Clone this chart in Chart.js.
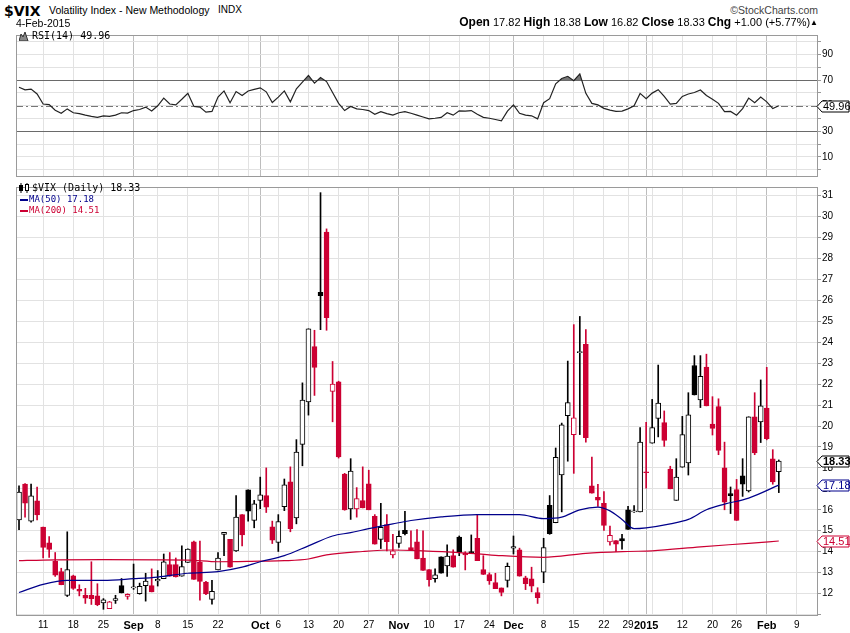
<!DOCTYPE html>
<html>
<head>
<meta charset="utf-8">
<script src="https://cdn.jsdelivr.net/npm/chart.js@4.4.1/dist/chart.umd.min.js"></script>
<style>
body { margin: 0; background: #fff; }
#wrap { position: relative; width: 850px; height: 633px; overflow: hidden; font-family: "Liberation Sans", Arial, sans-serif; color: #000; }
.t { position: absolute; white-space: nowrap; line-height: 1; }
.n { font-family: "Liberation Sans Narrow", "Arial Narrow", "Liberation Sans", sans-serif; font-weight: bold; font-size: 12px; }
.mono { font-family: "DejaVu Sans Mono", monospace; }
canvas { position: absolute; left: 0; }
</style>
</head>
<body>
<div id="wrap">
  <canvas id="rsi" width="850" height="156" style="top:28px"></canvas>
  <canvas id="main" width="850" height="453" style="top:180px"></canvas>

  <div class="t" style="left:4px;top:3px;font:bold 14px 'DejaVu Sans',sans-serif">$VIX</div>
  <div class="t" style="left:49px;top:5px;font-size:10.5px">Volatility Index - New Methodology</div>
  <div class="t" style="left:218px;top:5px;font-size:10px">INDX</div>
  <div class="t" style="right:32px;top:5px;font-size:10.5px;color:#444">&copy;StockCharts.com</div>
  <div class="t" style="left:16px;top:18px;font-size:10.5px">4-Feb-2015</div>
  <div class="t" id="ohlc" style="right:32px;top:16px;font-size:11px"></div>

  <svg class="t" style="left:19px;top:32px" width="10" height="9"><polygon points="0,9 2,2 4,5 6,0 9,9" fill="#888" stroke="#333" stroke-width="1"/></svg>
  <div class="t mono" id="lgRsi" style="left:32px;top:31px;font-size:10px"></div>

  <svg class="t" style="left:18px;top:183px" width="12" height="10"><line x1="3" y1="0" x2="3" y2="10" stroke="#000"/><rect x="1" y="2" width="4" height="6" fill="#000"/><line x1="9" y1="0" x2="9" y2="10" stroke="#000"/><rect x="7.5" y="1.5" width="3" height="6" fill="#fff" stroke="#000"/></svg>
  <div class="t mono" id="lgVix" style="left:32px;top:183px;font-size:10px"></div>
  <div class="t" style="left:20px;top:199px;width:8px;border-top:2px solid #00008b"></div>
  <div class="t mono" id="lgMa50" style="left:29px;top:195px;font-size:9px;color:#00008b"></div>
  <div class="t" style="left:20px;top:210px;width:8px;border-top:2px solid #cc0033"></div>
  <div class="t mono" id="lgMa200" style="left:29px;top:206px;font-size:9px;color:#cc0033"></div>
</div>
<script>
// trading days Aug 5 2014 .. Feb 4 2015, then empty days to the right edge
var dates = [
  '2014-08-05','2014-08-06','2014-08-07','2014-08-08',
  '2014-08-11','2014-08-12','2014-08-13','2014-08-14','2014-08-15',
  '2014-08-18','2014-08-19','2014-08-20','2014-08-21','2014-08-22',
  '2014-08-25','2014-08-26','2014-08-27','2014-08-28','2014-08-29',
  '2014-09-02','2014-09-03','2014-09-04','2014-09-05',
  '2014-09-08','2014-09-09','2014-09-10','2014-09-11','2014-09-12',
  '2014-09-15','2014-09-16','2014-09-17','2014-09-18','2014-09-19',
  '2014-09-22','2014-09-23','2014-09-24','2014-09-25','2014-09-26',
  '2014-09-29','2014-09-30','2014-10-01','2014-10-02','2014-10-03',
  '2014-10-06','2014-10-07','2014-10-08','2014-10-09','2014-10-10',
  '2014-10-13','2014-10-14','2014-10-15','2014-10-16','2014-10-17',
  '2014-10-20','2014-10-21','2014-10-22','2014-10-23','2014-10-24',
  '2014-10-27','2014-10-28','2014-10-29','2014-10-30','2014-10-31',
  '2014-11-03','2014-11-04','2014-11-05','2014-11-06','2014-11-07',
  '2014-11-10','2014-11-11','2014-11-12','2014-11-13','2014-11-14',
  '2014-11-17','2014-11-18','2014-11-19','2014-11-20','2014-11-21',
  '2014-11-24','2014-11-25','2014-11-26','2014-11-28',
  '2014-12-01','2014-12-02','2014-12-03','2014-12-04','2014-12-05',
  '2014-12-08','2014-12-09','2014-12-10','2014-12-11','2014-12-12',
  '2014-12-15','2014-12-16','2014-12-17','2014-12-18','2014-12-19',
  '2014-12-22','2014-12-23','2014-12-24','2014-12-26',
  '2014-12-29','2014-12-30','2014-12-31','2015-01-02',
  '2015-01-05','2015-01-06','2015-01-07','2015-01-08','2015-01-09',
  '2015-01-12','2015-01-13','2015-01-14','2015-01-15','2015-01-16',
  '2015-01-20','2015-01-21','2015-01-22','2015-01-23',
  '2015-01-26','2015-01-27','2015-01-28','2015-01-29','2015-01-30',
  '2015-02-02','2015-02-03','2015-02-04',
  '2015-02-05','2015-02-06','2015-02-09','2015-02-10','2015-02-11','2015-02-12'
];

var open = [
  15.52,17.23,15.46,16.43,15.17,14.42,13.54,13.05,11.91,12.85,
  12.20,11.92,11.92,11.89,11.56,11.28,11.67,12.38,11.87,12.27,
  12.00,12.38,12.38,12.60,12.71,13.38,13.38,12.83,13.49,14.47,
  13.49,12.55,11.72,13.13,14.83,14.59,14.04,15.77,16.95,15.49,
  16.45,16.68,15.19,14.44,16.15,17.34,15.61,19.12,21.15,23.79,
  26.38,29.26,21.65,22.11,17.70,16.04,16.04,16.44,17.24,15.69,
  14.59,15.30,13.84,14.40,15.02,14.20,14.47,13.70,13.15,12.71,
  13.76,13.32,13.81,14.70,13.93,14.00,14.64,13.15,12.91,12.53,
  12.27,12.63,14.17,14.09,12.75,12.71,12.05,13.02,16.21,15.38,
  17.66,20.49,19.59,23.50,23.90,17.15,16.59,16.31,14.47,14.53,
  14.62,16.00,15.90,15.90,17.80,19.18,20.36,20.16,17.94,16.45,
  18.03,18.24,22.89,21.24,22.81,20.09,20.93,18.00,16.78,16.97,
  17.62,16.90,20.44,20.20,20.86,18.43,17.82
];
var high = [
  17.15,17.25,17.23,17.08,15.17,14.72,13.96,13.21,14.95,12.88,
  12.42,12.25,13.52,12.47,11.76,11.63,11.92,12.72,11.99,13.41,
  12.50,12.97,13.18,13.10,13.89,13.96,13.70,14.28,14.14,14.51,
  14.51,12.58,12.63,13.96,14.92,14.59,16.68,15.77,16.95,16.45,
  17.56,18.00,15.46,15.77,17.47,18.05,19.35,22.06,24.64,24.57,
  31.14,29.41,23.08,22.14,17.74,18.44,17.06,18.05,17.89,15.77,
  16.31,15.77,14.83,14.99,15.93,14.99,15.06,14.99,13.15,13.18,
  13.76,14.33,14.09,14.75,14.00,14.80,15.77,13.81,12.99,12.97,
  12.27,13.46,14.75,14.17,12.83,13.26,12.28,14.64,16.68,18.95,
  20.14,23.10,24.84,25.23,24.60,18.52,17.22,16.87,15.22,14.53,
  14.83,16.16,16.20,19.92,20.17,21.27,22.91,20.72,18.08,18.44,
  20.46,21.59,23.36,23.36,23.43,21.40,21.30,19.23,17.09,17.45,
  18.44,20.44,21.59,22.20,22.80,18.87,18.38
];
var low = [
  15.05,15.65,15.41,15.52,13.70,13.73,12.82,12.42,11.86,12.20,
  11.89,11.53,11.48,11.42,11.25,11.28,11.53,12.03,11.73,12.20,
  11.97,11.64,12.08,12.36,12.71,12.83,12.79,12.83,13.49,12.68,
  11.69,11.95,11.50,13.13,13.81,13.26,14.01,14.28,15.46,15.14,
  16.05,15.87,14.39,14.01,15.96,14.95,15.33,18.10,20.52,21.46,
  24.60,24.57,20.20,18.47,15.98,15.54,15.65,16.09,16.00,14.36,
  14.15,14.04,13.70,14.20,14.80,14.09,13.65,13.10,12.36,12.55,
  12.97,12.82,13.26,13.81,13.13,13.92,13.57,12.91,12.44,12.24,
  11.89,12.31,13.89,12.83,12.19,12.08,11.53,12.52,14.83,15.38,
  15.90,18.32,17.74,19.59,19.23,16.79,16.16,15.02,14.31,14.00,
  14.12,15.06,15.88,15.90,17.03,19.18,19.48,19.03,17.00,16.45,
  18.03,17.66,21.48,20.88,20.96,19.57,18.63,16.00,15.82,15.49,
  16.64,16.85,18.63,19.21,19.34,17.22,16.82
];
var close = [
  16.84,16.32,16.67,15.76,14.20,14.11,12.88,12.42,13.15,12.25,
  12.11,11.78,11.76,11.47,11.70,11.61,11.76,12.03,11.97,12.30,
  12.35,12.60,12.08,12.68,13.52,12.83,12.80,13.29,14.12,12.68,
  12.58,11.98,12.11,13.70,14.92,13.26,15.65,14.80,15.93,16.29,
  16.71,16.13,14.55,15.44,17.19,15.10,18.76,21.24,24.64,22.80,
  26.22,25.17,22.00,18.52,16.00,17.85,16.53,16.09,16.00,14.36,
  15.16,14.48,14.04,14.73,14.86,14.10,13.65,13.10,12.66,12.90,
  12.97,13.79,13.26,13.96,13.84,13.92,13.57,12.91,12.60,12.24,
  12.05,13.30,14.25,12.83,12.47,12.36,11.80,14.20,14.86,18.51,
  20.06,21.12,20.39,23.55,19.44,16.79,16.46,15.25,14.78,14.36,
  14.51,15.06,15.93,19.23,17.77,19.92,21.10,19.31,17.00,17.56,
  19.59,20.53,21.48,22.37,20.96,19.89,18.84,16.37,16.68,15.49,
  17.22,20.44,18.71,20.96,19.39,17.33,18.33
];

var rsi = [
  64.4,62.4,62.9,59.1,51.3,50.8,46.5,44.1,47.5,44.5,
  43.8,42.6,41.6,40.9,42.1,41.6,42.6,44.5,44.2,46.2,
  47.0,48.9,45.8,49.9,55.9,51.3,50.6,55.0,59.6,49.4,
  48.9,45.0,45.5,56.7,61.5,52.3,61.0,57.9,61.5,62.7,
  63.9,60.8,52.5,56.7,61.5,53.0,63.2,68.3,73.6,67.6,
  71.9,68.8,60.3,51.8,46.2,49.4,47.5,47.0,46.2,43.3,
  45.3,43.8,42.6,44.5,45.3,44.1,42.6,41.2,39.7,40.2,
  40.9,44.5,42.6,46.0,45.8,46.2,43.3,40.9,40.2,39.2,
  38.2,45.8,50.6,44.1,42.6,42.1,39.7,52.3,55.5,67.1,
  71.2,72.9,69.5,74.8,59.6,51.8,50.6,47.9,46.5,45.5,
  45.8,47.5,49.9,59.6,55.5,59.8,62.5,57.2,51.3,51.8,
  57.2,59.1,60.3,62.2,57.9,55.0,51.8,45.3,45.5,42.6,
  47.7,55.9,52.3,56.7,53.0,47.7,49.96
];

// moving averages at these day indexes
var ma50Days = [0,4,8,14,19,23,28,33,37,40,44,48,52,55,58,62,65,70,76,83,87,90,93,96,98,100,102,104,108,111,114,117,121,126];
var ma50 = [12.05,12.44,12.63,12.63,12.71,12.79,12.97,13.05,13.26,13.52,13.81,14.28,14.75,14.91,15.10,15.33,15.49,15.66,15.77,15.77,15.58,15.65,16.00,16.13,15.95,15.54,15.10,15.14,15.33,15.54,16.00,16.27,16.56,17.18];
var ma200Days = [0,4,14,28,33,40,44,48,51,57,62,67,73,76,80,87,94,101,105,113,121,126];
var ma200 = [13.57,13.60,13.62,13.60,13.52,13.55,13.57,13.65,13.85,14.01,14.08,14.04,13.96,13.90,13.81,13.73,13.92,14.01,14.04,14.23,14.40,14.51];

var gridDates = ['2014-08-11','2014-08-18','2014-08-25','2014-09-02','2014-09-08','2014-09-15','2014-09-22','2014-09-29',
  '2014-10-01','2014-10-06','2014-10-13','2014-10-20','2014-10-27','2014-11-03','2014-11-10','2014-11-17','2014-11-24',
  '2014-12-01','2014-12-08','2014-12-15','2014-12-22','2014-12-29','2015-01-02','2015-01-05','2015-01-12','2015-01-20',
  '2015-01-26','2015-02-02','2015-02-09'];
var gridText = ['11','18','25','Sep','8','15','22','',
  'Oct','6','13','20','27','Nov','10','17','24',
  'Dec','8','15','22','29','2015','','12','20',
  '26','Feb','9'];
var monthText = ['Sep','Oct','Nov','Dec','2015','Feb'];
var rsiTicks = [10, 30, 50, 70, 90];
var rsiLevels = [70, 50, 30];

var RED = '#cc0033', BLK = '#000000', NAVY = '#00008b';
var last = close.length - 1;

function candleColor(i) {
  return (i === 0 || close[i] >= close[i - 1]) ? BLK : RED;
}
function tickText(i) {
  var k = gridDates.indexOf(dates[i]);
  return k < 0 ? null : gridText[k];
}
function gridColor(ctx) {
  var t = tickText(ctx.index);
  if (t === null) return 'rgba(0,0,0,0)';
  return (monthText.indexOf(t) >= 0) ? '#bdbdbd' : '#e2e2e2';
}

// header + legends
var chg = close[last] - close[last - 1];
document.getElementById('ohlc').innerHTML =
  '<span class="n">Open</span> ' + open[last].toFixed(2) +
  ' <span class="n">High</span> ' + high[last].toFixed(2) +
  ' <span class="n">Low</span> ' + low[last].toFixed(2) +
  ' <span class="n">Close</span> ' + close[last].toFixed(2) +
  ' <span class="n">Chg</span> ' + (chg >= 0 ? '+' : '') + chg.toFixed(2) +
  ' (' + (chg >= 0 ? '+' : '') + (chg / close[last - 1] * 100).toFixed(2) + '%)' +
  '<span style="font-size:8px;vertical-align:1px">&#9650;</span>';
document.getElementById('lgRsi').textContent = 'RSI(14) ' + rsi[last].toFixed(2);
document.getElementById('lgVix').textContent = '$VIX (Daily) ' + close[last].toFixed(2);
document.getElementById('lgMa50').textContent = 'MA(50) ' + ma50[ma50.length - 1].toFixed(2);
document.getElementById('lgMa200').textContent = 'MA(200) ' + ma200[ma200.length - 1].toFixed(2);

Chart.defaults.font.family = "'Liberation Sans', Arial, sans-serif";
Chart.defaults.font.size = 10;
Chart.defaults.color = '#000';

var framePlugin = {
  id: 'frame',
  afterDraw: function (chart) {
    var a = chart.chartArea, ctx = chart.ctx;
    ctx.save();
    ctx.strokeStyle = '#9a9a9a';
    ctx.lineWidth = 1;
    ctx.strokeRect(Math.round(a.left) + 0.5, Math.round(a.top) + 0.5,
      Math.round(a.right - a.left) - 1, Math.round(a.bottom - a.top) - 1);
    ctx.restore();
  }
};

var levelPlugin = {
  id: 'levels',
  beforeDatasetsDraw: function (chart, args, opts) {
    if (!opts.values) return;
    var a = chart.chartArea, ctx = chart.ctx, y = chart.scales.y;
    ctx.save();
    opts.values.forEach(function (v) {
      var py = Math.round(y.getPixelForValue(v)) + 0.5;
      ctx.strokeStyle = v === 50 ? '#777' : '#6a6a6a';
      ctx.lineWidth = 1;
      ctx.setLineDash(v === 50 ? [7, 3, 2, 3] : []);
      ctx.beginPath();
      ctx.moveTo(a.left, py);
      ctx.lineTo(a.right, py);
      ctx.stroke();
    });
    ctx.restore();
  }
};

var boxPlugin = {
  id: 'valueBoxes',
  afterDraw: function (chart, args, opts) {
    if (!opts.items) return;
    var ctx = chart.ctx, x0 = chart.chartArea.right - 1, y = chart.scales.y;
    opts.items.forEach(function (it) {
      var py = Math.round(y.getPixelForValue(it.value)) + 0.5;
      ctx.save();
      ctx.beginPath();
      ctx.moveTo(x0, py);
      ctx.lineTo(x0 + 5, py - 5.5);
      ctx.lineTo(849, py - 5.5);
      ctx.lineTo(849, py + 5.5);
      ctx.lineTo(x0 + 5, py + 5.5);
      ctx.closePath();
      ctx.fillStyle = '#fff';
      ctx.fill();
      ctx.strokeStyle = it.color;
      ctx.lineWidth = 1;
      ctx.stroke();
      ctx.fillStyle = it.color;
      ctx.font = (it.bold ? 'bold ' : '') + "11px 'Liberation Sans', Arial, sans-serif";
      ctx.textBaseline = 'middle';
      ctx.fillText(it.value.toFixed(2), x0 + 6, py + 0.5);
      ctx.restore();
    });
  }
};

var xScale = {
  type: 'category',
  offset: true,
  grid: { offset: false, color: gridColor, drawTicks: false },
  border: { display: false }
};

new Chart('rsi', {
  type: 'line',
  data: {
    labels: dates,
    datasets: [{
      data: rsi,
      borderColor: '#222',
      borderWidth: 1.2,
      pointRadius: 0,
      tension: 0,
      fill: { target: { value: 70 }, above: '#777', below: 'rgba(0,0,0,0)' }
    }]
  },
  options: {
    responsive: false,
    animation: false,
    layout: { padding: { left: 16, right: 0, top: 2, bottom: 2.3 } },
    plugins: {
      legend: { display: false },
      tooltip: { enabled: false },
      levels: { values: rsiLevels },
      valueBoxes: { items: [{ value: rsi[last], color: '#000', bold: false }] }
    },
    scales: {
      x: Object.assign({}, xScale, {
        ticks: { display: false },
        afterFit: function (s) { s.height = 0; }
      }),
      y: {
        position: 'right',
        min: -5.6,
        max: 105.1,
        grid: { color: '#e2e2e2', tickLength: 3, tickColor: '#999' },
        border: { display: false },
        ticks: {
          stepSize: 10,
          autoSkip: false,
          includeBounds: false,
          padding: 1,
          callback: function (v) { return rsiTicks.indexOf(v) >= 0 ? v : ''; }
        },
        afterFit: function (s) { s.width = 32; }
      }
    }
  },
  plugins: [levelPlugin, framePlugin, boxPlugin]
});

new Chart('main', {
  type: 'bar',
  data: {
    labels: dates,
    datasets: [
      {
        type: 'line',
        data: ma50Days.map(function (d, j) { return { x: dates[d], y: ma50[j] }; }),
        borderColor: NAVY,
        borderWidth: 1.2,
        pointRadius: 0,
        cubicInterpolationMode: 'monotone',
        order: 0
      },
      {
        type: 'line',
        data: ma200Days.map(function (d, j) { return { x: dates[d], y: ma200[j] }; }),
        borderColor: RED,
        borderWidth: 1.2,
        pointRadius: 0,
        cubicInterpolationMode: 'monotone',
        order: 0
      },
      {
        data: open.map(function (o, i) { return [o, close[i]]; }),
        barThickness: 5,
        borderWidth: 1,
        borderSkipped: false,
        minBarLength: 1,
        grouped: false,
        backgroundColor: function (c) { return close[c.dataIndex] > open[c.dataIndex] ? '#fff' : candleColor(c.dataIndex); },
        borderColor: function (c) { return candleColor(c.dataIndex); },
        order: 1
      },
      {
        data: low.map(function (l, i) { return [l, high[i]]; }),
        barThickness: 1,
        borderWidth: 0,
        grouped: false,
        backgroundColor: function (c) { return candleColor(c.dataIndex); },
        order: 2
      }
    ]
  },
  options: {
    responsive: false,
    animation: false,
    layout: { padding: { left: 16, right: 0, top: 1.7, bottom: 0 } },
    plugins: {
      legend: { display: false },
      tooltip: { enabled: false },
      valueBoxes: {
        items: [
          { value: close[last], color: '#000', bold: true },
          { value: ma50[ma50.length - 1], color: NAVY, bold: false },
          { value: ma200[ma200.length - 1], color: RED, bold: false }
        ]
      }
    },
    scales: {
      x: Object.assign({}, xScale, {
        ticks: {
          autoSkip: false,
          maxRotation: 0,
          minRotation: 0,
          padding: 3,
          callback: function (v, i) { var t = tickText(i); return t === null ? '' : t; },
          font: function (c) {
            var t = tickText(c.index);
            return { size: monthText.indexOf(t) >= 0 ? 11 : 10, weight: monthText.indexOf(t) >= 0 ? 'bold' : 'normal' };
          }
        },
        afterFit: function (s) { s.height = 17; }
      }),
      y: {
        position: 'right',
        min: 10.93,
        max: 31.41,
        grid: { color: '#e2e2e2', tickLength: 3, tickColor: '#999' },
        border: { display: false },
        ticks: {
          stepSize: 1,
          autoSkip: false,
          includeBounds: false,
          padding: 1,
          callback: function (v) { return v >= 12 ? v : ''; }
        },
        afterFit: function (s) { s.width = 32; }
      }
    }
  },
  plugins: [framePlugin, boxPlugin]
});
</script>
</body>
</html>
